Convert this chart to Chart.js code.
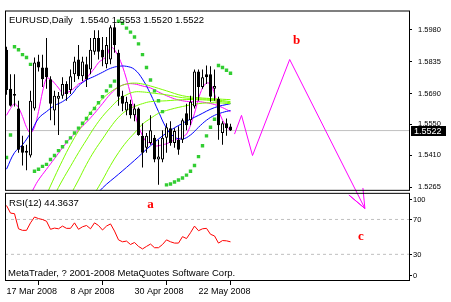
<!DOCTYPE html>
<html lang="en">
<head>
    <meta charset="UTF-8">
    <title>EURUSD, Daily</title>
    <style>
        html, body { margin: 0; padding: 0; background: #ffffff; overflow: hidden; }
        #chart-container { width: 451px; height: 302px; }
    </style>
</head>
<body>
    <div id="chart-container">
        <canvas id="price-chart" width="451" height="302"></canvas>
    </div>

    <script src="https://cdn.jsdelivr.net/npm/chart.js"></script>
    <script>
        // values
        const symbol = 'EURUSD';
        const period = 'Daily';
        const rsiPeriod = 12;
        const copyright = 'MetaTrader, ? 2001-2008 MetaQuotes Software Corp.';

        const dateTicks = [0, 16, 32, 48];
        const dateLabels = ['17 Mar 2008', '8 Apr 2008', '30 Apr 2008', '22 May 2008'];
        const priceTicks = [1.5980, 1.5835, 1.5690, 1.5550, 1.5410, 1.5265];
        const rsiTicks = [100, 70, 30, 0];
        const rsiLevels = [70, 30];

        const opens = [1.5888, 1.5711, 1.5680, 1.5622, 1.5453, 1.5422, 1.5409, 1.5622, 1.5835, 1.5808,
            1.5808, 1.5755, 1.5613, 1.5666, 1.5680, 1.5733, 1.5706, 1.5777, 1.5844, 1.5768,
            1.5822, 1.5799, 1.5879, 1.5941, 1.5888, 1.5822, 1.5844, 1.5990, 1.5875, 1.5680,
            1.5613, 1.5644, 1.5591, 1.5622, 1.5498, 1.5444, 1.5466, 1.5489, 1.5391, 1.5391,
            1.5489, 1.5533, 1.5466, 1.5480, 1.5480, 1.5600, 1.5569, 1.5631, 1.5790, 1.5719,
            1.5777, 1.5777, 1.5711, 1.5666, 1.5511, 1.5555, 1.5540];
        const highs = [1.5902, 1.5777, 1.5777, 1.5657, 1.5498, 1.5458, 1.5702, 1.5853, 1.5866, 1.5866,
            1.5941, 1.5768, 1.5702, 1.5697, 1.5764, 1.5746, 1.5799, 1.5857, 1.5910, 1.5857,
            1.5857, 1.5941, 1.5977, 1.5977, 1.5946, 1.5946, 1.5999, 1.6008, 1.5888, 1.5702,
            1.5675, 1.5662, 1.5644, 1.5626, 1.5555, 1.5511, 1.5591, 1.5502, 1.5480, 1.5524,
            1.5555, 1.5564, 1.5533, 1.5542, 1.5577, 1.5644, 1.5680, 1.5799, 1.5799, 1.5799,
            1.5817, 1.5813, 1.5799, 1.5675, 1.5564, 1.5577, 1.5553];
        const lows = [1.5684, 1.5631, 1.5631, 1.5422, 1.5364, 1.5342, 1.5400, 1.5613, 1.5790, 1.5719,
            1.5711, 1.5569, 1.5546, 1.5502, 1.5666, 1.5657, 1.5688, 1.5742, 1.5755, 1.5746,
            1.5719, 1.5777, 1.5866, 1.5844, 1.5813, 1.5804, 1.5822, 1.5875, 1.5635, 1.5609,
            1.5591, 1.5577, 1.5564, 1.5498, 1.5355, 1.5422, 1.5458, 1.5378, 1.5276, 1.5378,
            1.5422, 1.5453, 1.5444, 1.5413, 1.5466, 1.5524, 1.5546, 1.5622, 1.5657, 1.5711,
            1.5733, 1.5653, 1.5657, 1.5480, 1.5458, 1.5498, 1.5520];
        const closes = [1.5706, 1.5635, 1.5688, 1.5435, 1.5422, 1.5431, 1.5657, 1.5830, 1.5808, 1.5755,
            1.5764, 1.5644, 1.5680, 1.5680, 1.5733, 1.5688, 1.5768, 1.5835, 1.5768, 1.5835,
            1.5755, 1.5888, 1.5941, 1.5879, 1.5853, 1.5910, 1.5990, 1.5910, 1.5675, 1.5644,
            1.5653, 1.5591, 1.5622, 1.5502, 1.5422, 1.5498, 1.5524, 1.5391, 1.5404, 1.5489,
            1.5537, 1.5466, 1.5520, 1.5435, 1.5569, 1.5546, 1.5653, 1.5790, 1.5719, 1.5764,
            1.5764, 1.5675, 1.5724, 1.5546, 1.5555, 1.5533, 1.5522];

        // parabolic SAR, one dot per bar
        const sar = [1.5400, 1.5502, 1.5902, 1.5888, 1.5866, 1.5853, 1.5822, 1.5338, 1.5347, 1.5360,
            1.5369, 1.5391, 1.5409, 1.5431, 1.5449, 1.5471, 1.5489, 1.5511, 1.5533, 1.5555,
            1.5577, 1.5600, 1.5622, 1.5648, 1.5675, 1.5702, 1.5724, 1.5746, 1.6017, 1.6008,
            1.5986, 1.5968, 1.5946, 1.5915, 1.5866, 1.5808, 1.5751, 1.5702, 1.5657, 1.5608,
            1.5276, 1.5280, 1.5289, 1.5298, 1.5307, 1.5320, 1.5338, 1.5364, 1.5404, 1.5453,
            1.5498, 1.5537, 1.5573, 1.5817, 1.5808, 1.5795, 1.5782];

        const rsi = [86.0, 77.3, 76.6, 59.3, 57.5, 57.5, 66.1, 72.8, 71.0, 69.9,
            68.0, 58.7, 60.1, 59.3, 62.4, 59.8, 59.8, 66.1, 58.7, 61.6,
            63.1, 59.3, 66.1, 63.1, 57.9, 62.4, 64.9, 56.7, 46.6, 44.4,
            45.2, 41.3, 43.6, 39.1, 36.2, 39.1, 41.8, 37.6, 37.6, 41.3,
            46.6, 44.4, 42.9, 42.9, 50.3, 48.1, 54.8, 62.4, 57.1, 59.3,
            59.8, 53.0, 51.1, 42.9, 45.8, 45.5, 44.3637];

        // fast magenta average, one value per bar
        const magentaFast = [1.5591, 1.5622, 1.5644, 1.5626, 1.5586, 1.5537, 1.5511, 1.5537, 1.5608, 1.5697,
            1.5759, 1.5755, 1.5737, 1.5715, 1.5693, 1.5693, 1.5702, 1.5715, 1.5733, 1.5742,
            1.5759, 1.5782, 1.5804, 1.5830, 1.5844, 1.5857, 1.5902, 1.5888, 1.5857, 1.5813,
            1.5755, 1.5688, 1.5608, 1.5542, 1.5498, 1.5471, 1.5466, 1.5453, 1.5453, 1.5458,
            1.5462, 1.5471, 1.5480, 1.5484, 1.5493, 1.5506, 1.5546, 1.5600, 1.5666, 1.5715,
            1.5737, 1.5733, 1.5688, 1.5617, 1.5569, 1.5542, 1.5520];

        // slower lines, [bar, price] pairs
        const magentaSlow = [[6, 1.5231], [7, 1.5267], [8, 1.5298], [10, 1.5347], [12, 1.5395], [14, 1.5444],
            [16, 1.5489], [18, 1.5524], [20, 1.5560], [22, 1.5600], [24, 1.5644], [26, 1.5688], [28, 1.5719],
            [30, 1.5733], [32, 1.5733], [34, 1.5724], [36, 1.5715], [38, 1.5697], [40, 1.5680], [42, 1.5666],
            [44, 1.5657], [46, 1.5653], [48, 1.5653], [50, 1.5648], [52, 1.5640], [54, 1.5626], [56, 1.5608]];
        const blueFast = [[0, 1.5347], [2, 1.5422], [4, 1.5458], [6, 1.5511], [8, 1.5577], [10, 1.5608],
            [12, 1.5635], [14, 1.5653], [16, 1.5680], [18, 1.5724], [20, 1.5751], [22, 1.5768], [24, 1.5786],
            [26, 1.5804], [28, 1.5813], [30, 1.5813], [32, 1.5799], [34, 1.5755], [36, 1.5688], [38, 1.5608],
            [40, 1.5533], [42, 1.5493], [44, 1.5484], [46, 1.5502], [48, 1.5537], [50, 1.5569], [52, 1.5591],
            [54, 1.5604], [56, 1.5613]];
        const blueSlow = [[22, 1.5218], [24, 1.5262], [28, 1.5324], [32, 1.5387], [36, 1.5453], [40, 1.5511],
            [44, 1.5555], [48, 1.5591], [52, 1.5626], [56, 1.5644]];
        const green1 = [[10, 1.5231], [12, 1.5311], [14, 1.5387], [16, 1.5458], [18, 1.5520], [20, 1.5577],
            [22, 1.5626], [24, 1.5666], [26, 1.5697], [28, 1.5719], [30, 1.5733], [32, 1.5737], [34, 1.5733],
            [36, 1.5724], [40, 1.5702], [44, 1.5680], [48, 1.5671], [52, 1.5666], [56, 1.5662]];
        const green2 = [[12, 1.5231], [14, 1.5298], [16, 1.5360], [18, 1.5422], [20, 1.5480], [22, 1.5537],
            [24, 1.5586], [26, 1.5626], [28, 1.5662], [30, 1.5684], [32, 1.5697], [34, 1.5697], [36, 1.5693],
            [40, 1.5684], [44, 1.5671], [48, 1.5666], [52, 1.5662], [56, 1.5653]];
        const green3 = [[16, 1.5231], [18, 1.5298], [20, 1.5369], [22, 1.5431], [24, 1.5484], [26, 1.5537],
            [28, 1.5582], [30, 1.5613], [32, 1.5631], [34, 1.5644], [36, 1.5653], [40, 1.5657], [44, 1.5662],
            [48, 1.5662], [52, 1.5657], [56, 1.5648]];
        const green4 = [[22, 1.5236], [24, 1.5298], [26, 1.5364], [28, 1.5422], [30, 1.5471], [32, 1.5511],
            [34, 1.5551], [36, 1.5577], [38, 1.5600], [40, 1.5613], [44, 1.5631], [48, 1.5644], [52, 1.5648],
            [56, 1.5644]];

        // hand drawn projection with its arrow head
        const zigzag = [[57, 1.5506], [58.75, 1.5591], [61.5, 1.5409], [70.8, 1.5844], [89.6, 1.5169],
            [85.6, 1.5230], [89.6, 1.5169], [89.1, 1.5262]];

        const letterTexts = ['a', 'b', 'c'];
        const letterBars = [36, 72.5, 88.6];
        const letterValues = [83.7, 1.5915, 46.6];
        const letterAxes = ['rsi', 'y', 'rsi'];

        // axis windows
        const xMin = -0.375, xMax = 100.625;
        const priceMin = 1.5249, priceMax = 1.6066;
        const rsiMin = -0.56, rsiMax = 102.81;

        const lastClose = closes[closes.length - 1];
        const bars = closes.map((_, i) => i);
        const toPoints = pairs => pairs.map(p => ({ x: p[0], y: p[1] }));

        function lineSet(points, color, axis, extra) {
            return Object.assign({
                type: 'line', data: points, yAxisID: axis || 'y',
                borderColor: color, borderWidth: 1, pointRadius: 0, tension: 0.4, fill: false, order: 4
            }, extra || {});
        }

        const labelFont = '"Liberation Sans", Arial, sans-serif';

        const paneDecor = {
            id: 'paneDecor',
            afterDraw(chart) {
                const { ctx, chartArea: area, scales } = chart;
                const y = scales.y, r = scales.rsi, x = scales.x;
                const w = area.right - area.left;
                ctx.save();

                // pane frames
                ctx.strokeStyle = '#000';
                ctx.lineWidth = 1;
                ctx.strokeRect(area.left + 0.5, y.top + 0.5, w, y.bottom - y.top - 1);
                const rTop = r.top + 2.5, rBottom = r.bottom - 0.5;
                ctx.strokeRect(area.left + 0.5, rTop, w, rBottom - rTop);

                // rsi scale, end labels kept inside the pane
                ctx.fillStyle = '#000';
                ctx.font = '7.5px ' + labelFont;
                ctx.textBaseline = 'middle';
                ctx.textAlign = 'left';
                rsiTicks.forEach(v => {
                    const py = Math.round(Math.min(Math.max(r.getPixelForValue(v), rTop + 6), rBottom - 6));
                    ctx.fillRect(area.right, py, 3, 1);
                    ctx.fillText(String(v), area.right + 4, py + 0.5);
                });

                // last price marker
                const py = Math.round(y.getPixelForValue(lastClose));
                ctx.fillStyle = '#000';
                ctx.fillRect(area.right + 2, py - 5, 35, 10);
                ctx.fillStyle = '#fff';
                ctx.font = '9px ' + labelFont;
                ctx.fillText(lastClose.toFixed(4), area.right + 5, py + 0.5);

                // pane captions
                ctx.fillStyle = '#000';
                ctx.textBaseline = 'alphabetic';
                ctx.font = '9.5px ' + labelFont;
                ctx.fillText(symbol + ',' + period, area.left + 4, y.top + 12.5);
                const n = closes.length - 1;
                ctx.fillText([opens[n], highs[n], lows[n], closes[n]].map(v => v.toFixed(4)).join(' '),
                    area.left + 75, y.top + 12.5);
                ctx.fillText('RSI(' + rsiPeriod + ') ' + rsi[rsi.length - 1].toFixed(4), area.left + 4, r.top + 15);
                ctx.fillText(copyright, area.left + 3, r.bottom - 5);

                // red wave letters
                ctx.fillStyle = '#ff0000';
                ctx.font = 'bold 13px "Liberation Serif", "Times New Roman", serif';
                ctx.textAlign = 'center';
                letterTexts.forEach((t, i) => {
                    ctx.fillText(t, x.getPixelForValue(letterBars[i]),
                        scales[letterAxes[i]].getPixelForValue(letterValues[i]));
                });
                ctx.restore();
            }
        };

        const ctx = document.getElementById('price-chart').getContext('2d');
        const priceChart = new Chart(ctx, {
            type: 'line',
            data: {
                datasets: [
                    // current price line
                    lineSet([{ x: xMin, y: lastClose }, { x: xMax, y: lastClose }], '#c0c0c0', 'y', { tension: 0, order: 9 }),
                    // rsi levels
                    ...rsiLevels.map(v => lineSet([{ x: xMin, y: v }, { x: xMax, y: v }], '#c0c0c0', 'rsi',
                        { tension: 0, borderDash: [3, 3], order: 9 })),
                    lineSet(toPoints(green4), '#7cfc00'),
                    lineSet(toPoints(green3), '#7cfc00'),
                    lineSet(toPoints(green2), '#7cfc00'),
                    lineSet(toPoints(green1), '#7cfc00'),
                    lineSet(toPoints(blueSlow), '#0000ff'),
                    lineSet(toPoints(blueFast), '#0000ff'),
                    lineSet(toPoints(magentaSlow), '#ff00ff'),
                    lineSet(bars.map(i => ({ x: i, y: magentaFast[i] })), '#ff00ff', 'y', { tension: 0.3 }),
                    {
                        type: 'bar', label: 'wicks', yAxisID: 'y', order: 3, grouped: false,
                        data: bars.map(i => ({ x: i, y: [lows[i], highs[i]] })),
                        backgroundColor: '#000', barThickness: 1, inflateAmount: 0, borderWidth: 0
                    },
                    {
                        type: 'bar', label: 'bodies', yAxisID: 'y', order: 2, grouped: false,
                        data: bars.map(i => ({ x: i, y: [opens[i], closes[i]] })),
                        backgroundColor: bars.map(i => closes[i] >= opens[i] ? '#ffffff' : '#000000'),
                        borderColor: '#000', borderWidth: 1, borderSkipped: false,
                        barThickness: 3, inflateAmount: 0
                    },
                    {
                        type: 'line', label: 'SAR', yAxisID: 'y', order: 1, showLine: false,
                        data: bars.map(i => ({ x: i, y: sar[i] })),
                        pointStyle: 'rect', pointRadius: 2.4, pointBorderWidth: 0,
                        pointBackgroundColor: '#32cd32', borderColor: '#32cd32'
                    },
                    lineSet(toPoints(zigzag), '#ff00ff', 'y', { tension: 0, clip: false, order: 0 }),
                    lineSet(bars.map(i => ({ x: i, y: rsi[i] })), '#ff0000', 'rsi', { tension: 0, order: 1 })
                ]
            },
            options: {
                responsive: false,
                devicePixelRatio: 1,
                animation: false,
                events: [],
                layout: { padding: { left: 5, top: 5, right: 0, bottom: 0 } },
                plugins: { legend: { display: false }, tooltip: { enabled: false } },
                scales: {
                    x: {
                        type: 'linear', min: xMin, max: xMax, offset: false,
                        afterBuildTicks: s => { s.ticks = dateTicks.map(v => ({ value: v })); },
                        afterFit: s => { s.height = 21; },
                        ticks: {
                            callback: (v, k) => dateLabels[k], align: 'start', maxRotation: 0,
                            autoSkip: false, padding: 1, color: '#000',
                            font: { family: labelFont, size: 9 }
                        },
                        grid: { drawOnChartArea: false, tickLength: 4, tickColor: '#000' },
                        border: { display: false }
                    },
                    y: {
                        type: 'linear', position: 'right', stack: 'panes', stackWeight: 184,
                        min: priceMin, max: priceMax,
                        afterBuildTicks: s => { s.ticks = priceTicks.map(v => ({ value: v })); },
                        afterFit: s => { s.width = 42; },
                        ticks: {
                            callback: v => v.toFixed(4), autoSkip: false, padding: 6, color: '#000',
                            font: { family: labelFont, size: 7.5 }
                        },
                        grid: { drawOnChartArea: false, tickLength: 3, tickColor: '#000' },
                        border: { display: false }
                    },
                    rsi: {
                        type: 'linear', position: 'right', stack: 'panes', stackWeight: 92,
                        min: rsiMin, max: rsiMax,
                        afterFit: s => { s.width = 42; },
                        ticks: { display: false },
                        grid: { display: false },
                        border: { display: false }
                    }
                }
            },
            plugins: [paneDecor]
        });
    </script>
</body>
</html>
